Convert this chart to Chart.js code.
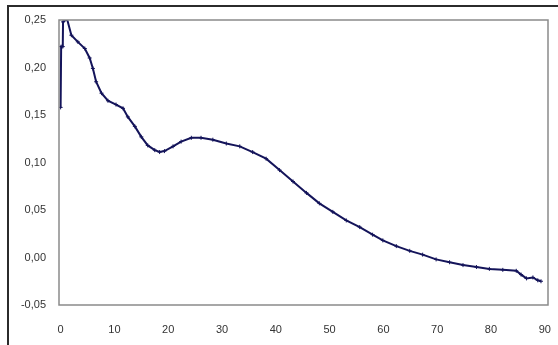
<!DOCTYPE html>
<html>
<head>
<meta charset="utf-8">
<script src="https://cdn.jsdelivr.net/npm/chart.js@4/dist/chart.umd.min.js"></script>
<style>
  html, body { margin: 0; padding: 0; background: #fff; }
  #chart { display: block; }
</style>
</head>
<body>
<canvas id="chart" width="558" height="345"></canvas>
<script>
// values
const xValues = [
  0, 0.1, 0.4, 0.45, 1.2, 2.0, 3.2, 4.5, 5.4, 6.0, 6.6, 7.6, 8.8, 10.3, 11.6,
  12.5, 13.8, 15.0, 16.2, 17.5, 18.4, 19.3, 20.9, 22.4, 24.3, 26.1, 28.3, 30.8,
  33.3, 35.7, 38.2, 40.7, 43.2, 45.7, 48.1, 50.6, 53.1, 55.6, 58.0, 59.9, 62.4,
  64.9, 67.3, 69.8, 72.3, 74.8, 77.3, 79.7, 82.2, 84.7, 85.6, 86.6, 87.8, 88.7, 89.3,
];
const yValues = [
  0.158, 0.222, 0.222, 0.248, 0.251, 0.234, 0.227, 0.220, 0.210, 0.199, 0.185,
  0.173, 0.165, 0.161, 0.157, 0.148, 0.138, 0.127, 0.118, 0.113, 0.111, 0.112,
  0.117, 0.122, 0.126, 0.126, 0.124, 0.120, 0.117, 0.111, 0.104, 0.092, 0.080,
  0.068, 0.057, 0.048, 0.039, 0.032, 0.024, 0.018, 0.012, 0.007, 0.003, -0.002,
  -0.005, -0.008, -0.010, -0.012, -0.013, -0.014, -0.018, -0.022, -0.021, -0.024, -0.025,
];
const xTicks = [0, 10, 20, 30, 40, 50, 60, 70, 80, 90];
const yTicks = [-0.05, 0, 0.05, 0.10, 0.15, 0.20, 0.25];

const LINE_COLOR = '#14145a';
const TEXT_COLOR = '#333333';
const FONT = { family: '"Liberation Sans", Arial, sans-serif', size: 11 };

// outer frame + grey box round the plot area, like the Excel original
const frames = {
  id: 'frames',
  beforeDraw(chart) {
    const { ctx } = chart;
    ctx.save();
    ctx.fillStyle = '#ffffff';
    ctx.fillRect(0, 0, chart.width, chart.height);
    ctx.strokeStyle = '#2b2b2b';
    ctx.lineWidth = 2;
    ctx.beginPath();
    ctx.moveTo(8, chart.height);
    ctx.lineTo(8, 6);
    ctx.lineTo(chart.width, 6);
    ctx.stroke();
    ctx.restore();
  },
  afterDatasetsDraw(chart) {
    const { ctx, chartArea } = chart;
    ctx.save();
    ctx.strokeStyle = '#8a8a8a';
    ctx.lineWidth = 1.5;
    ctx.strokeRect(chartArea.left, chartArea.top, chartArea.right - chartArea.left, chartArea.bottom - chartArea.top);
    ctx.restore();
  },
};

const formatTick = (value) => value.toFixed(2).replace('.', ',');

const points = xValues.map((x, i) => ({ x, y: yValues[i] }));

new Chart(document.getElementById('chart'), {
  type: 'line',
  data: {
    datasets: [{
      data: points,
      borderColor: LINE_COLOR,
      backgroundColor: LINE_COLOR,
      borderWidth: 2,
      pointStyle: 'cross',
      pointRadius: 2,
      pointBorderWidth: 1,
      tension: 0,
      fill: false,
    }],
  },
  plugins: [frames],
  options: {
    responsive: false,
    animation: false,
    layout: { padding: { left: 7, top: 20, right: 10, bottom: 0 } },
    plugins: {
      legend: { display: false },
      tooltip: { enabled: false },
    },
    scales: {
      x: {
        type: 'linear',
        min: -0.3,
        max: 90.6,
        grid: { display: false, drawTicks: false },
        border: { display: false },
        afterBuildTicks: (scale) => { scale.ticks = xTicks.map((value) => ({ value })); },
        // fixed size, and no extra room for the edge labels
        afterFit: (scale) => { scale.height = 40; scale.paddingRight = 0; scale.paddingLeft = 0; },
        ticks: {
          padding: 18,
          color: TEXT_COLOR,
          font: FONT,
          maxRotation: 0,
          callback: (value) => String(value),
        },
      },
      y: {
        min: -0.05,
        max: 0.25,
        grid: { display: false, drawTicks: false },
        border: { display: false },
        afterBuildTicks: (scale) => { scale.ticks = yTicks.map((value) => ({ value })); },
        afterFit: (scale) => { scale.width = 52; scale.paddingTop = 0; scale.paddingBottom = 0; },
        ticks: {
          padding: 13,
          color: TEXT_COLOR,
          font: FONT,
          callback: formatTick,
        },
      },
    },
  },
});
</script>
</body>
</html>
